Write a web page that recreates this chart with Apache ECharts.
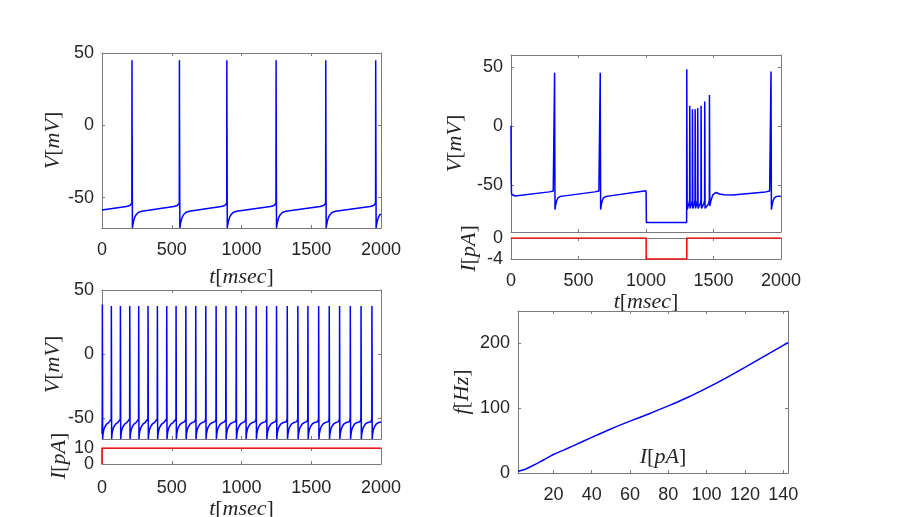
<!DOCTYPE html>
<html>
<head>
<meta charset="utf-8">
<script src="https://cdn.jsdelivr.net/npm/echarts@6/dist/echarts.min.js"></script>
<style>
html, body { margin: 0; padding: 0; background: #fff; }
#main { width: 913px; height: 517px; }
</style>
</head>
<body>
<div id="main"></div>
<script>
// ---- data ----
// panel 1: tonic firing, no input
var p1Spikes = [215, 555, 895, 1248, 1604, 1962];
var p1Peak = 45;
var p1PreDt = [-40, -15, -5, -1];
var p1PreV = [-56.2, -55.5, -54.9, -53.8];
var p1PostDt = [1, 3, 6, 12, 20, 30, 45, 70];
var p1PostV = [0, -71, -69, -66, -63.5, -61.8, -60.3, -59.4];
var p1Start = [[0, -58.5]];
var p1End = [[2000, -61.5]];

// panel 2: hyperpolarising step and rebound burst
var p2Start = [[0, 0], [1.5, -45], [4, -58], [15, -59.5], [30, -59.5]];
var p2Spikes = [323, 661, 1926];
var p2Peaks = [45, 45, 46];
var p2PreDt = [-40, -10, -1];
var p2PreV = [-56, -55.2, -53.8];
var p2PostDt = [1, 3, 8, 15, 25, 40, 60];
var p2PostV = [0, -71, -67, -63.5, -61, -60, -59.6];
var p2StepOff = 1302;
var p2PreStep = [[960, -55.6], [1000, -55], [1001, -60], [1003, -82]];
var p2Hyper = -82;
var p2Rebound = [[1302, 48], [1303, 0], [1305, -71]];
var p2BurstT = [1324, 1344, 1364, 1383, 1408, 1435, 1470];
var p2BurstPeak = [17, 14, 14, 15, 17, 20.5, 26];
var p2BurstPreDt = [-6, -1];
var p2BurstPreV = [-66, -63];
var p2BurstPostDt = [1, 2.5];
var p2BurstPostV = [0, -70];
var p2AfterBurst = [[1482, -63], [1495, -58.5], [1519, -56.5], [1545, -57.8], [1580, -58.5], [1640, -58.6]];
var p2End = [[2000, -60]];
var p2CurT = [0, 1001, 1001, 1302, 1302, 2000];
var p2CurI = [0, 0, -4, -4, 0, 0];

// panel 3: 10 pA step, adapting tonic firing
var p3Spikes = [2.6, 67, 132, 199, 263, 330, 397, 464, 531, 601, 672, 744, 818, 888,
                962, 1031, 1105, 1180, 1251, 1328, 1404, 1476, 1553, 1629, 1703, 1780, 1857, 1935];
var p3FirstPeak = 38.8, p3Peak = 37.5;
var p3PreDt = [-8, -1];
var p3PreV = [-52.5, -50.5];
var p3PostDt = [1, 2, 5, 10, 18, 30, 45];
var p3PostV = [0, -66, -62, -59, -56.5, -54.5, -53.3];
var p3Start = [[0, -62]];
var p3End = [[2000, -52.8]];
var p3CurT = [0, 0, 2000];
var p3CurI = [0, 10, 10];

// panel 4: f-I curve
var fiI = [1.5, 5, 10, 15, 20, 25, 30, 40, 50, 60, 70, 80, 90, 100, 110, 120, 130, 140, 142.5];
var fiF = [2.6, 5.5, 12.5, 20.5, 28.5, 35, 41.5, 55, 68, 80, 91.5, 103.5, 116.5, 131, 146.5, 163, 180, 197, 201];

var tTicks = [0, 500, 1000, 1500, 2000];
var vTicks = [-50, 0, 50];
var iTicks = [20, 40, 60, 80, 100, 120, 140];
var fTicks = [0, 100, 200];

// ---- build traces ----
function pushPt(pts, t, v) {
    if (t < 0 || t > 2000) return;
    if (pts.length && t <= pts[pts.length - 1][0]) return;
    pts.push([t, v]);
}
function addList(pts, list) {
    list.forEach(function (p) { pushPt(pts, p[0], p[1]); });
}
function addSpike(pts, ts, peak, preDt, preV, postDt, postV) {
    preDt.forEach(function (d, i) { pushPt(pts, ts + d, preV[i]); });
    pushPt(pts, ts, peak);
    postDt.forEach(function (d, i) { pushPt(pts, ts + d, postV[i]); });
}
function zip(a, b) { return a.map(function (x, i) { return [x, b[i]]; }); }

var trace1 = [];
addList(trace1, p1Start);
p1Spikes.forEach(function (ts) { addSpike(trace1, ts, p1Peak, p1PreDt, p1PreV, p1PostDt, p1PostV); });
addList(trace1, p1End);

var trace2 = [];
addList(trace2, p2Start);
addSpike(trace2, p2Spikes[0], p2Peaks[0], p2PreDt, p2PreV, p2PostDt, p2PostV);
addSpike(trace2, p2Spikes[1], p2Peaks[1], p2PreDt, p2PreV, p2PostDt, p2PostV);
addList(trace2, p2PreStep);
pushPt(trace2, p2StepOff - 1, p2Hyper);
addList(trace2, p2Rebound);
p2BurstT.forEach(function (ts, i) {
    addSpike(trace2, ts, p2BurstPeak[i], p2BurstPreDt, p2BurstPreV, p2BurstPostDt, p2BurstPostV);
});
trace2[trace2.length - 1][1] = -68;
addList(trace2, p2AfterBurst);
addSpike(trace2, p2Spikes[2], p2Peaks[2], p2PreDt, p2PreV, p2PostDt, p2PostV);
addList(trace2, p2End);

var trace3 = [];
addList(trace3, p3Start);
p3Spikes.forEach(function (ts, i) {
    addSpike(trace3, ts, i === 0 ? p3FirstPeak : p3Peak, p3PreDt, p3PreV, p3PostDt, p3PostV);
});
addList(trace3, p3End);

// ---- styling helpers ----
var TXT = '#262626';
var BOX = '#7a7a7a';
var SANS = 'Liberation Sans';
var SERIF = 'Liberation Serif';
var richTex = {
    i: { fontFamily: SERIF, fontStyle: 'italic', fontSize: 22, color: TXT },
    r: { fontFamily: SERIF, fontSize: 22, color: TXT }
};
function tex(sym, unit) { return '{i|' + sym + '}{r|[}{i|' + unit + '}{r|]}'; }
function plain(v) { return String(v); }

function tickLabel(ticks, margin) {
    return {
        show: true, customValues: ticks, color: TXT, fontFamily: SANS, fontSize: 18,
        margin: margin, formatter: plain, hideOverlap: false, showMinLabel: true, showMaxLabel: true
    };
}
function xPair(g, min, max, ticks, labels, name, gap, margin, namePad) {
    var common = {
        type: 'value', gridIndex: g, min: min, max: max,
        splitLine: { show: false },
        axisLine: { show: true, onZero: false, lineStyle: { color: BOX, width: 1 } },
        axisTick: { show: true, inside: true, length: 3, customValues: ticks, lineStyle: { color: BOX } }
    };
    var bottom = Object.assign({}, common, {
        position: 'bottom',
        axisLabel: labels ? tickLabel(ticks, margin) : { show: false }
    });
    if (name) {
        bottom.name = name;
        bottom.nameLocation = 'middle';
        bottom.nameGap = gap;
        bottom.nameTextStyle = { rich: richTex, padding: namePad || 0 };
    }
    var top = Object.assign({}, common, { position: 'top', axisLabel: { show: false } });
    return [bottom, top];
}
function yPair(g, min, max, ticks, name, gap, labelTicks) {
    var common = {
        type: 'value', gridIndex: g, min: min, max: max,
        splitLine: { show: false },
        axisLine: { show: true, onZero: false, lineStyle: { color: BOX, width: 1 } },
        axisTick: { show: true, inside: true, length: 3, customValues: ticks, lineStyle: { color: BOX } }
    };
    var left = Object.assign({}, common, {
        position: 'left',
        axisLabel: tickLabel(labelTicks || ticks, 8),
        name: name, nameLocation: 'middle', nameGap: gap,
        nameTextStyle: { rich: richTex }
    });
    var right = Object.assign({}, common, { position: 'right', axisLabel: { show: false } });
    return [left, right];
}
// label-only left axis, used where two tick labels sit too close for one axis
function yLabelOnly(g, min, max, ticks) {
    return {
        type: 'value', gridIndex: g, min: min, max: max, position: 'left', offset: 0,
        splitLine: { show: false }, axisLine: { show: false }, axisTick: { show: false },
        axisLabel: tickLabel(ticks, 8)
    };
}

var xAxes = [].concat(
    xPair(0, 0, 2000, tTicks, true, tex('t', 'msec'), 38, 13),
    xPair(1, 0, 2000, tTicks, false),
    xPair(2, 0, 2000, tTicks, true, tex('t', 'msec'), 25, 13),
    xPair(3, 0, 2000, tTicks, false),
    xPair(4, 0, 2000, tTicks, true, tex('t', 'msec'), 31, 15),
    xPair(5, 1.5, 142.5, iTicks, true, tex('I', 'pA'), -27, 13, [0, 0, 0, 20])
);
var yAxes = [].concat(
    yPair(0, -71, 50, vTicks, tex('V', 'mV'), 34),
    yPair(1, -90, 60, vTicks, tex('V', 'mV'), 45),
    yPair(2, -4, 0, [-4, 0], tex('I', 'pA'), 31, [0]),
    yPair(3, -66, 50, vTicks, tex('V', 'mV'), 34),
    yPair(4, 0, 10, [0, 10], tex('I', 'pA'), 31, [10]),
    yPair(5, 0, 250, fTicks, tex('f', 'Hz'), 45),
    [yLabelOnly(2, -4, 0, [-4]), yLabelOnly(4, 0, 10, [0])]
);

function lineSeries(g, data, color, smooth) {
    return {
        type: 'line', xAxisIndex: 2 * g, yAxisIndex: 2 * g,
        data: data, showSymbol: false, symbol: 'none', smooth: smooth || false,
        lineStyle: { color: color, width: 1.5 },
        clip: true
    };
}

function gridBox(left, top, width, height) {
    return { left: left, top: top, width: width, height: height, containLabel: false, outerBoundsMode: 'none' };
}

var chart = echarts.init(document.getElementById('main'));
var option = {
    animation: false,
    backgroundColor: '#ffffff',
    grid: [
        gridBox(102, 53, 279, 175),
        gridBox(511, 55, 270, 177),
        gridBox(511, 238, 270, 21),
        gridBox(102, 290, 279, 149),
        gridBox(102, 448, 279, 16),
        gridBox(518, 311, 270, 162)
    ],
    xAxis: xAxes,
    yAxis: yAxes,
    series: [
        lineSeries(0, trace1, '#0000ff'),
        lineSeries(1, trace2, '#0000ff'),
        lineSeries(2, zip(p2CurT, p2CurI), '#ff0000'),
        lineSeries(3, trace3, '#0000ff'),
        lineSeries(4, zip(p3CurT, p3CurI), '#ff0000'),
        lineSeries(5, zip(fiI, fiF), '#0000ff', 0.3)
    ]
};
chart.setOption(option);
</script>
</body>
</html>
